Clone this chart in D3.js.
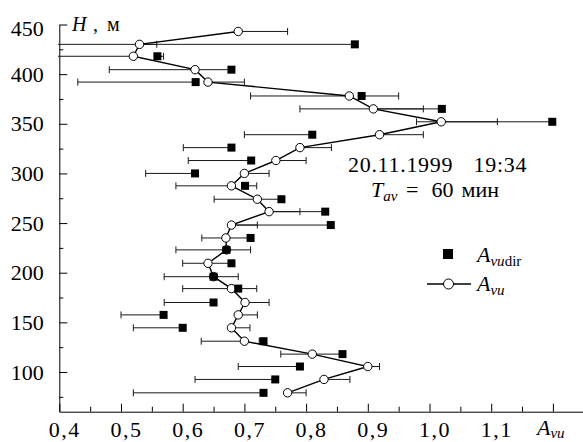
<!DOCTYPE html>
<html>
<head>
<meta charset="utf-8">
<script src="https://cdn.jsdelivr.net/npm/d3@7"></script>
</head>
<body style="margin:0;background:#fff">
<script>
// ---- data ----
const heights  = [443, 430, 418, 404.5, 392, 378, 365, 352, 339, 326, 313, 300, 287.5, 274, 261.5, 248, 235, 223, 209.5, 196, 184, 170, 157.5, 144.5, 131, 118, 105.5, 92.5, 79];
const avu      = [0.690, 0.530, 0.520, 0.620, 0.641, 0.870, 0.909, 1.019, 0.919, 0.790, 0.751, 0.700, 0.679, 0.721, 0.740, 0.679, 0.670, 0.671, 0.641, 0.650, 0.679, 0.701, 0.690, 0.679, 0.700, 0.810, 0.900, 0.829, 0.770];
const avuEnd   = [0.770, 0.558, 0.350, 0.481, 0.700, 0.710, 0.990, 1.110, 0.990, 0.841, 0.800, 0.740, 0.589, 0.651, 0.790, 0.721, 0.631, 0.710, 0.600, 0.690, 0.600, 0.740, 0.721, 0.709, 0.630, 0.759, 0.919, 0.871, 0.800];
const avudir   = [null, 0.879, 0.559, 0.679, 0.621, 0.890, 1.020, 1.199, 0.810, 0.679, 0.711, 0.620, 0.701, 0.760, 0.831, 0.840, 0.710, 0.671, 0.679, 0.650, 0.690, 0.650, 0.569, 0.600, 0.731, 0.859, 0.790, 0.750, 0.731];
const avudirEnd= [null, 0.350, 0.569, 0.620, 0.430, 0.950, 0.790, 0.979, 0.700, 0.601, 0.609, 0.540, 0.720, 0.721, 0.740, 0.679, 0.671, 0.589, 0.641, 0.570, 0.720, 0.570, 0.500, 0.520, 0.724, 0.811, 0.690, 0.620, 0.520];

const xTicks      = [0.4, 0.5, 0.6, 0.7, 0.8, 0.9, 1.0, 1.1, 1.2];
const xTickLabels = ["0,4", "0,5", "0,6", "0,7", "0,8", "0,9", "1,0", "1,1", ""];
const xMinor      = [0.45, 0.55, 0.65, 0.75, 0.85, 0.95, 1.05, 1.15];
const yTicks      = [100, 150, 200, 250, 300, 350, 400, 450];
const yMinor      = [75, 125, 175, 225, 275, 325, 375, 425];

const W = 583, H = 442;
const svg = d3.select("body").append("svg").attr("width", W).attr("height", H).style("display", "block");

const x = d3.scaleLinear().domain([0.4, 1.25]).range([59.3, 583.75]);
const y = d3.scaleLinear().domain([60, 450]).range([411.7, 24.5]);

svg.append("defs").append("clipPath").attr("id", "clip")
  .append("rect").attr("x", 58).attr("y", 0).attr("width", W - 58).attr("height", H);

// ---- axes ----
const yAxis = svg.append("g").attr("transform", `translate(${x(0.4)},0)`)
  .call(d3.axisLeft(y).tickValues(yTicks).tickSizeInner(-8).tickSizeOuter(0).tickPadding(15.5).tickFormat(d3.format("d")));
svg.append("g").attr("transform", `translate(${x(0.4)},0)`)
  .call(d3.axisLeft(y).tickValues(yMinor).tickSizeInner(-4).tickSizeOuter(0).tickFormat(""))
  .select(".domain").remove();

const xAxis = svg.append("g").attr("transform", `translate(0,${y(60)})`)
  .call(d3.axisBottom(x).tickValues(xTicks).tickSizeInner(-8).tickSizeOuter(0).tickPadding(10)
    .tickFormat((d, i) => xTickLabels[i]));
svg.append("g").attr("transform", `translate(0,${y(60)})`)
  .call(d3.axisBottom(x).tickValues(xMinor).tickSizeInner(-5).tickSizeOuter(0).tickFormat(""))
  .select(".domain").remove();

[yAxis, xAxis].forEach(g => {
  g.selectAll("text").style("font-size", "22px");
  g.selectAll("path, line").attr("stroke", "#000").attr("stroke-width", 1);
});
yAxis.selectAll(".tick text").filter(d => d === 450).attr("dy", "0.5em");
xAxis.selectAll(".tick text").attr("dx", 5).style("letter-spacing", "1.5px");

// x-axis end label A_vu
const xl = svg.append("text").attr("x", 537).attr("y", 435).style("font-size", "22px");
xl.append("tspan").style("font-style", "italic").text("A");
xl.append("tspan").style("font-style", "italic").style("font-size", "15px").attr("dy", 3).text("vu");

// y-axis label H, м
const yl = svg.append("text").attr("y", 30.5).style("font-size", "20px");
yl.append("tspan").attr("x", 72).style("font-style", "italic").text("H");
yl.append("tspan").attr("x", 93).text(",");
yl.append("tspan").attr("x", 107).text("м");

// ---- error bars ----
const gErr = svg.append("g").attr("clip-path", "url(#clip)").attr("stroke", "#1a1a1a").attr("stroke-width", 1);
function bar(v, e, h) {
  if (v == null || e == null) return;
  const yy = y(h);
  gErr.append("line").attr("x1", x(v)).attr("x2", x(e)).attr("y1", yy).attr("y2", yy);
  gErr.append("line").attr("x1", x(e)).attr("x2", x(e)).attr("y1", yy - 3.5).attr("y2", yy + 3.5);
}
heights.forEach((h, i) => { bar(avu[i], avuEnd[i], h); bar(avudir[i], avudirEnd[i], h); });

// ---- A_vu line + circles ----
const idx = d3.range(heights.length);
svg.append("path")
  .attr("d", d3.line().x(i => x(avu[i])).y(i => y(heights[i]))(idx))
  .attr("fill", "none").attr("stroke", "#000").attr("stroke-width", 1.4);
svg.append("g").selectAll("circle").data(idx).join("circle")
  .attr("cx", i => x(avu[i])).attr("cy", i => y(heights[i])).attr("r", 4.2)
  .attr("fill", "#fff").attr("stroke", "#000").attr("stroke-width", 1);

// ---- A_vudir squares ----
const sq = 8;
svg.append("g").selectAll("rect").data(idx.filter(i => avudir[i] != null)).join("rect")
  .attr("x", i => x(avudir[i]) - sq / 2).attr("y", i => y(heights[i]) - sq / 2)
  .attr("width", sq).attr("height", sq).attr("fill", "#000");

// ---- annotation ----
svg.append("text").attr("x", 348).attr("y", 171.5).style("font-size", "22px").style("letter-spacing", "0.7px").text("20.11.1999");
svg.append("text").attr("x", 473.5).attr("y", 171.5).style("font-size", "22px").style("letter-spacing", "0.7px").text("19:34");
const t2 = svg.append("text").attr("x", 371).attr("y", 197).style("font-size", "22px");
t2.append("tspan").style("font-style", "italic").text("T");
t2.append("tspan").style("font-style", "italic").style("font-size", "15px").attr("dy", 4).text("av");
svg.append("text").attr("x", 406).attr("y", 197).style("font-size", "22px").text("=");
svg.append("text").attr("x", 431.5).attr("y", 197).style("font-size", "22px").text("60");
svg.append("text").attr("x", 461.5).attr("y", 197).style("font-size", "22px").text("мин");

// ---- legend ----
const lg = svg.append("g");
lg.append("rect").attr("x", 448 - 5).attr("y", 254 - 5).attr("width", 10).attr("height", 10).attr("fill", "#000");
const l1 = lg.append("text").attr("x", 477).attr("y", 262).style("font-size", "22px");
l1.append("tspan").style("font-style", "italic").text("A");
l1.append("tspan").style("font-style", "italic").style("font-size", "15px").attr("dy", 4).text("vu");
l1.append("tspan").style("font-size", "15px").text("dir");
lg.append("line").attr("x1", 427).attr("x2", 471).attr("y1", 284).attr("y2", 284).attr("stroke", "#000").attr("stroke-width", 1.4);
lg.append("circle").attr("cx", 448.5).attr("cy", 284).attr("r", 5).attr("fill", "#fff").attr("stroke", "#000").attr("stroke-width", 1);
const l2 = lg.append("text").attr("x", 477).attr("y", 291).style("font-size", "22px");
l2.append("tspan").style("font-style", "italic").text("A");
l2.append("tspan").style("font-style", "italic").style("font-size", "15px").attr("dy", 4).text("vu");

// serif face on every text element
svg.selectAll("text").style("font-family", '"Liberation Serif"').style("fill", "#000");
</script>
</body>
</html>
